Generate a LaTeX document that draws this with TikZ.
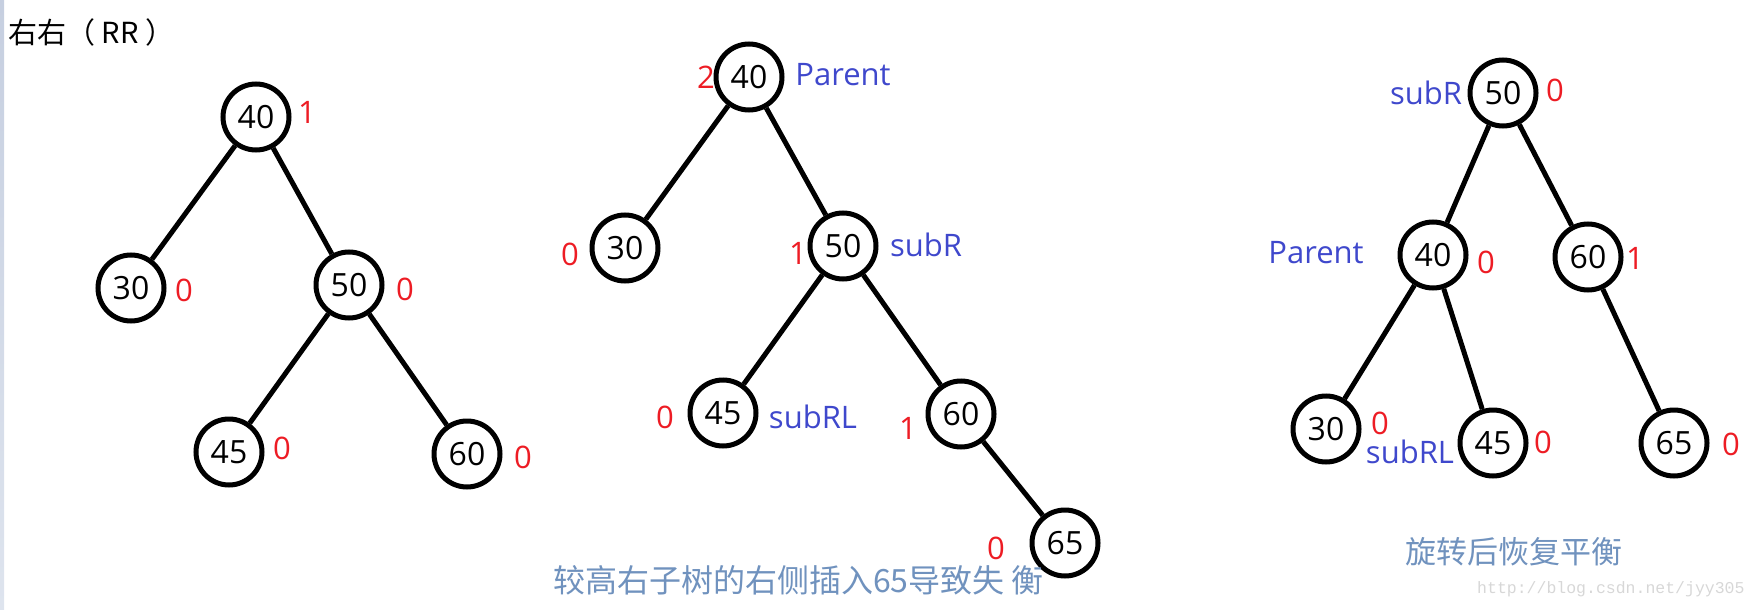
\documentclass[tikz,border=0pt]{standalone}
\usepackage{fontspec}
\setmainfont{Open Sans}
\newfontfamily\cjk{Noto Sans CJK SC}
\newfontfamily\wmfont{Liberation Mono}
\definecolor{bfred}{RGB}{237,28,36}
\definecolor{ptrblue}{RGB}{63,72,204}
\definecolor{capblue}{RGB}{112,146,190}
\definecolor{wmgray}{RGB}{215,215,215}

\begin{document}
\begin{tikzpicture}[x=1pt,y=-1pt,
	treenode/.style={draw, circle, line width=5pt, minimum size=66pt, inner sep=0pt, font=\fontsize{32}{32}\selectfont},
	bal/.style={text=bfred, inner sep=0pt, font=\fontsize{31}{31}\selectfont},
	ptr/.style={text=ptrblue, inner sep=0pt, font=\fontsize{31}{31}\selectfont},
	note/.style={text=capblue, inner sep=0pt, font=\cjk\fontsize{31}{31}\selectfont},
	link/.style={line width=5pt}]
	\useasboundingbox (0,0) rectangle (1757,610);
	\shade[top color={rgb,255:red,198;green,207;blue,224}, bottom color={rgb,255:red,222;green,228;blue,238}] (0,0) rectangle (4,610);
	\node[anchor=west, inner sep=0pt, font=\cjk\fontsize{29}{29}\selectfont] (title) at (8,32) {右右（ RR ）};
	
	% before insertion
	\node[treenode] (a40) at (256,117) {40};
	\node[treenode] (a30) at (131,288) {30};
	\node[treenode] (a50) at (349,285) {50};
	\node[treenode] (a45) at (229,452) {45};
	\node[treenode] (a60) at (467,454) {60};
	\draw[link] (a40) -- (a30) (a40) -- (a50) (a50) -- (a45) (a50) -- (a60);
	\node[bal] (a40b) at (307,112) {1};
	\node[bal] (a30b) at (184,290) {0};
	\node[bal] (a50b) at (405,289) {0};
	\node[bal] (a45b) at (282,448) {0};
	\node[bal] (a60b) at (523,457) {0};
	
	% 65 inserted
	\node[treenode] (b40) at (749,77) {40};
	\node[treenode] (b30) at (625,248) {30};
	\node[treenode] (b50) at (843,246) {50};
	\node[treenode] (b45) at (723,413) {45};
	\node[treenode] (b60) at (961,414) {60};
	\node[treenode] (b65) at (1065,543) {65};
	\draw[link] (b40) -- (b30) (b40) -- (b50) (b50) -- (b45) (b50) -- (b60) (b60) -- (b65);
	\node[bal] (b40b) at (706,77) {2};
	\node[bal] (b30b) at (570,254) {0};
	\node[bal] (b50b) at (798,253) {1};
	\node[bal] (b45b) at (665,417) {0};
	\node[bal] (b60b) at (908,428) {1};
	\node[bal] (b65b) at (996,548) {0};
	\node[ptr] (b40p) at (843,75) {Parent};
	\node[ptr] (b50p) at (926,245) {subR};
	\node[ptr] (b45p) at (813,417) {subRL};
	\node[note, anchor=west, font=\cjk\fontsize{32}{32}\selectfont] (bnote) at (553,580) {较高右子树的右侧插入65导致失 衡};
	
	% after rotation
	\node[treenode] (c50) at (1503,93) {50};
	\node[treenode] (c40) at (1433,255) {40};
	\node[treenode] (c60) at (1588,257) {60};
	\node[treenode] (c30) at (1326,429) {30};
	\node[treenode] (c45) at (1493,443) {45};
	\node[treenode] (c65) at (1674,443) {65};
	\draw[link] (c50) -- (c40) (c50) -- (c60) (c40) -- (c30) (c40) -- (c45) (c60) -- (c65);
	\node[bal] (c50b) at (1555,90) {0};
	\node[bal] (c40b) at (1486,262) {0};
	\node[bal] (c60b) at (1635,258) {1};
	\node[bal] (c30b) at (1380,423) {0};
	\node[bal] (c45b) at (1543,442) {0};
	\node[bal] (c65b) at (1731,444) {0};
	\node[ptr] (c50p) at (1426,93) {subR};
	\node[ptr] (c40p) at (1316,253) {Parent};
	\node[ptr] (c45p) at (1410,452) {subRL};
	\node[note] (cnote) at (1514,552) {旋转后恢复平衡};
	\node[anchor=west, inner sep=0pt, text=wmgray, font=\wmfont\fontsize{16.5}{16.5}\selectfont] (wm) at (1477,589) {http://blog.csdn.net/jyy305};
\end{tikzpicture}
\end{document}
